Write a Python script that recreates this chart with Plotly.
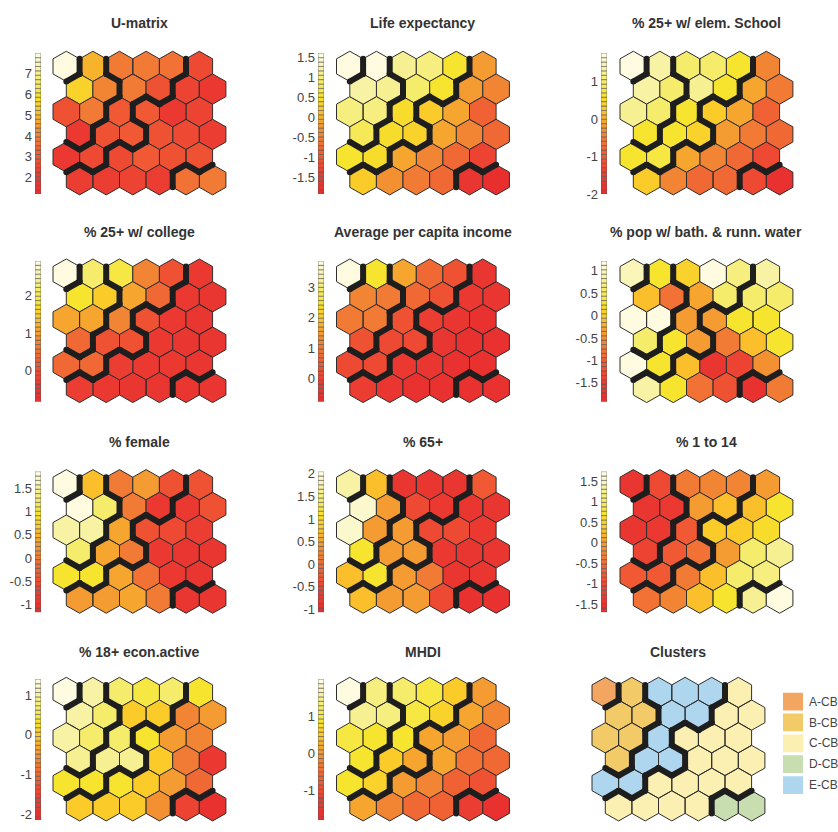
import math
import plotly.graph_objects as go
from plotly.colors import sample_colorscale

FIG_W, FIG_H = 838, 832
FONT = "Liberation Sans, Arial, sans-serif"

# ---------------------------------------------------------------- data
panel_titles = [
    "U-matrix", "Life expectancy", "% 25+ w/ elem. School",
    "% 25+ w/ college", "Average per capita income", "% pop w/ bath. & runn. water",
    "% female", "% 65+", "% 1 to 14",
    "% 18+ econ.active", "MHDI",
]

u_matrix = [
    [7.9, 4.9, 3.9, 3.9, 3.6, 2.6],
    [5.5, 4.0, 3.8, 2.7, 2.4, 2.0],
    [2.8, 3.8, 3.0, 3.0, 2.0, 2.3],
    [2.0, 2.8, 2.9, 2.7, 2.6, 2.2],
    [1.9, 2.6, 2.5, 3.1, 2.8, 2.8],
    [2.2, 2.2, 2.3, 2.2, 3.7, 3.8],
]
life_expectancy = [
    [1.55, 1.55, 1.15, 1.0, 0.6, -0.2],
    [1.2, 1.15, 0.9, 0.55, -0.2, -0.4],
    [1.05, 0.95, 0.45, 0.2, -0.15, -0.9],
    [0.75, 0.5, 0.3, -0.1, -0.4, -0.7],
    [0.55, 0.5, -0.1, -0.45, -0.8, -1.3],
    [0.2, -0.35, -0.55, -0.8, -1.6, -1.85],
]
elem_school = [
    [1.68, 1.4, 1.05, 1.0, 0.7, -0.45],
    [1.4, 1.05, 1.2, 0.65, -0.05, -0.5],
    [1.25, 1.0, 0.7, 0.3, -0.1, -0.85],
    [0.7, 0.65, 0.35, -0.15, -0.5, -0.8],
    [0.7, 0.72, -0.1, -0.45, -0.75, -1.2],
    [0.3, -0.4, -0.75, -0.75, -1.2, -1.85],
]
college = [
    [2.85, 2.2, 1.9, 0.7, 0.1, -0.45],
    [1.85, 1.5, 1.1, 0.4, -0.45, -0.5],
    [1.1, 1.1, 0.75, 0.05, -0.4, -0.5],
    [0.35, 0.1, 0.05, -0.4, -0.5, -0.5],
    [0.4, 0.35, -0.3, -0.45, -0.45, -0.5],
    [-0.35, -0.45, -0.5, -0.5, -0.55, -0.55],
]
income = [
    [3.76, 2.55, 1.6, 0.7, 0.3, -0.4],
    [1.2, 1.1, 0.8, 0.3, -0.3, -0.45],
    [1.1, 1.0, 0.3, -0.1, -0.45, -0.5],
    [0.3, 0.2, 0.15, -0.4, -0.5, -0.55],
    [0.2, 0.15, -0.2, -0.35, -0.5, -0.5],
    [-0.1, -0.35, -0.5, -0.5, -0.55, -0.55],
]
bath_water = [
    [0.95, 0.3, 0.05, 1.15, 0.65, 0.9],
    [-0.1, -0.75, -0.35, 0.6, 0.55, 0.6],
    [1.15, 1.18, -0.4, -0.4, 0.25, 0.25],
    [0.6, 0.3, -0.4, -0.7, -0.15, 0.25],
    [1.15, 0.3, -0.15, -1.7, -1.35, -0.45],
    [0.85, 0.25, -0.75, -1.15, -1.75, -0.65],
]
female = [
    [1.8, 0.6, 0.0, 0.3, -0.45, -0.5],
    [1.8, 1.25, 0.05, -0.85, -0.8, -0.5],
    [1.5, 1.55, 0.35, -0.5, -0.55, -0.75],
    [1.25, 0.35, 0.05, -0.85, -0.95, -0.9],
    [0.95, 0.95, 0.35, -0.05, -0.85, -0.9],
    [0.3, 0.3, 0.35, 0.0, -0.95, -0.95],
]
age_65_plus = [
    [1.7, 0.75, -0.85, -0.85, -0.8, -0.2],
    [1.95, 0.45, -0.4, -0.7, -0.85, -0.8],
    [1.95, 0.45, 0.45, -0.4, -0.45, -0.7],
    [1.1, 0.45, 0.45, -0.7, -0.85, -0.8],
    [0.75, 1.1, 0.45, 0.15, -0.85, -0.85],
    [0.7, 0.45, 0.45, -0.4, -0.9, -0.9],
]
age_1_to_14 = [
    [-1.45, -1.0, -0.4, -0.3, -0.3, 0.0],
    [-1.4, -1.3, -0.05, 0.3, 0.3, 0.75],
    [-1.45, -1.35, -0.75, 0.35, 0.35, 0.6],
    [-1.1, -0.8, -0.45, 0.0, 1.0, 1.3],
    [-0.75, -0.8, -0.4, 0.3, 1.0, 1.2],
    [-0.45, -0.2, 0.25, 0.75, 1.3, 1.65],
]
econ_active = [
    [1.33, 1.05, 0.7, 0.45, 0.65, 0.35],
    [1.0, 0.7, 0.0, 0.05, -0.7, -0.45],
    [1.0, 0.7, 0.65, 0.3, -0.45, -0.6],
    [0.85, 0.95, 0.95, 0.0, -0.75, -1.75],
    [0.4, 0.4, 0.35, 0.0, -0.45, -1.0],
    [0.0, 0.0, 0.0, -0.5, -1.5, -1.95],
]
mhdi = [
    [1.92, 1.35, 1.25, 0.95, 0.55, 0.05],
    [1.5, 1.3, 0.95, 0.6, 0.1, -0.25],
    [0.95, 0.9, 0.85, 0.15, 0.05, -0.6],
    [0.9, 0.55, 0.2, 0.1, -0.5, -0.6],
    [0.9, 0.6, 0.05, -0.25, -0.65, -0.95],
    [0.15, -0.2, -0.55, -0.65, -1.3, -1.6],
]

plane_values = [u_matrix, life_expectancy, elem_school, college, income,
                bath_water, female, age_65_plus, age_1_to_14, econ_active, mhdi]

plane_ranges = [(1.2, 8.0), (-1.9, 1.6), (-2.0, 1.76), (-0.83, 2.93), (-0.75, 3.85),
                (-1.92, 1.22), (-1.17, 1.86), (-1.07, 2.05), (-1.7, 1.74),
                (-2.15, 1.4), (-1.81, 2.0)]

plane_ticks = [
    [2, 3, 4, 5, 6, 7],
    [-1.5, -1, -0.5, 0, 0.5, 1, 1.5],
    [-2, -1, 0, 1],
    [0, 1, 2],
    [0, 1, 2, 3],
    [-1.5, -1, -0.5, 0, 0.5, 1],
    [-1, -0.5, 0, 0.5, 1, 1.5],
    [-1, -0.5, 0, 0.5, 1, 1.5, 2],
    [-1.5, -1, -0.5, 0, 0.5, 1, 1.5],
    [-2, -1, 0, 1],
    [-1, 0, 1],
]

cluster_labels = ["A-CB", "B-CB", "C-CB", "D-CB", "E-CB"]
cluster_colors = ["#F3A562", "#F2CB68", "#FBF0B2", "#C8DEB1", "#AED6EF"]
cluster_map = [
    ["A", "B", "E", "E", "E", "C"],
    ["B", "B", "E", "E", "C", "C"],
    ["B", "B", "E", "C", "C", "C"],
    ["B", "E", "E", "C", "C", "C"],
    ["E", "E", "C", "C", "C", "C"],
    ["C", "C", "C", "C", "D", "D"],
]

# red -> orange -> yellow -> cream colour map, split into discrete steps
heat_scale = [
    [0.00, "rgb(232,45,45)"],
    [0.15, "rgb(236,62,50)"],
    [0.28, "rgb(240,92,52)"],
    [0.40, "rgb(241,125,52)"],
    [0.50, "rgb(245,160,48)"],
    [0.60, "rgb(251,200,42)"],
    [0.70, "rgb(246,228,45)"],
    [0.80, "rgb(245,236,110)"],
    [0.90, "rgb(248,243,170)"],
    [1.00, "rgb(255,252,235)"],
]
N_STEPS = 32
step_colors = sample_colorscale(heat_scale, [(i + 0.5) / N_STEPS for i in range(N_STEPS)])

# ---------------------------------------------------------------- geometry
N_ROWS, N_COLS = 6, 6
S = 1 / math.sqrt(3)          # hexagon side (unit flat-to-flat width)
DY = 1.5 * S                  # vertical spacing between rows
PX = 26.6                     # pixels per data unit
PAD = 0.11

grid_left = [53, 336.5, 620]
grid_top = [47, 258, 472, 683]
bar_left = [35, 318, 601]
title_y = [18, 231, 444, 657]
cluster_grid_left = 592


def hex_center(r, c):
    return c + 0.5 * (r % 2), -r * DY


def hex_vertices(r, c):
    cx, cy = hex_center(r, c)
    return [(cx + S * math.cos(math.radians(a)), cy + S * math.sin(math.radians(a)))
            for a in (30, 90, 150, 210, 270, 330)]


def boundary_edges(groups):
    """Edges shared by neighbouring cells that belong to different groups."""
    edges = []
    for r in range(N_ROWS):
        for c in range(N_COLS):
            v = hex_vertices(r, c)
            odd = r % 2
            nbrs = [((r, c + 1), (5, 0)),
                    ((r + 1, c + odd), (4, 5)),
                    ((r + 1, c - 1 + odd), (3, 4))]
            for (nr, nc), (i, j) in nbrs:
                if 0 <= nr < N_ROWS and 0 <= nc < N_COLS and groups[nr][nc] != groups[r][c]:
                    edges.append((v[i], v[j]))
    return edges


fig = go.Figure()
layout_axes = {}
axis_count = [0]


def new_axes(x0_px, x1_px, y0_px, y1_px, xrange, yrange, xopts=None, yopts=None):
    axis_count[0] += 1
    n = axis_count[0]
    sfx = "" if n == 1 else str(n)
    xa = dict(domain=[x0_px / FIG_W, x1_px / FIG_W], range=xrange, anchor=f"y{sfx}",
              visible=False, fixedrange=True)
    ya = dict(domain=[1 - y1_px / FIG_H, 1 - y0_px / FIG_H], anchor=f"x{sfx}",
              visible=False, fixedrange=True)
    if yrange is not None:
        ya["range"] = yrange
    if xopts:
        xa.update(xopts)
    if yopts:
        ya.update(yopts)
    layout_axes[f"xaxis{sfx}"] = xa
    layout_axes[f"yaxis{sfx}"] = ya
    return f"x{sfx}", f"y{sfx}"


def hex_axes(gx, gy):
    w = 6.5
    h = 5 * DY + 2 * S
    return new_axes(gx - PAD * PX, gx + (w + PAD) * PX,
                    gy - PAD * PX, gy + (h + PAD) * PX,
                    [-0.5 - PAD, 6.0 + PAD], [-5 * DY - S - PAD, S + PAD])


def draw_hexes(xr, yr, color_of):
    groups = {}
    for r in range(N_ROWS):
        for c in range(N_COLS):
            col = color_of(r, c)
            xs, ys = groups.setdefault(col, ([], []))
            v = hex_vertices(r, c)
            for (x, y) in v + [v[0]]:
                xs.append(x)
                ys.append(y)
            xs.append(None)
            ys.append(None)
    for col, (xs, ys) in groups.items():
        fig.add_trace(go.Scatter(x=xs, y=ys, xaxis=xr, yaxis=yr, mode="lines",
                                 fill="toself", fillcolor=col,
                                 line=dict(color="#2e2e2e", width=1),
                                 hoverinfo="skip", showlegend=False))


def draw_boundaries(xr, yr):
    xs, ys, px, py = [], [], [], []
    for (a, b) in boundary_edges(cluster_map):
        xs += [a[0], b[0], None]
        ys += [a[1], b[1], None]
        px += [a[0], b[0]]
        py += [a[1], b[1]]
    fig.add_trace(go.Scatter(x=xs, y=ys, xaxis=xr, yaxis=yr, mode="lines",
                             line=dict(color="#1e1e1e", width=6),
                             hoverinfo="skip", showlegend=False))
    fig.add_trace(go.Scatter(x=px, y=py, xaxis=xr, yaxis=yr, mode="markers",
                             marker=dict(color="#1e1e1e", size=6),
                             hoverinfo="skip", showlegend=False))


def fmt(v):
    return str(int(v)) if float(v).is_integer() else str(v)


annotations = []

for p, (values, (vmin, vmax), ticks) in enumerate(zip(plane_values, plane_ranges, plane_ticks)):
    prow, pcol = divmod(p, 3)
    gx, gy = grid_left[pcol], grid_top[prow]

    # component plane
    xr, yr = hex_axes(gx, gy)

    def color_of(r, c, values=values, vmin=vmin, vmax=vmax):
        k = int((values[r][c] - vmin) / (vmax - vmin) * N_STEPS)
        return step_colors[max(0, min(N_STEPS - 1, k))]

    draw_hexes(xr, yr, color_of)
    draw_boundaries(xr, yr)

    # segmented colour bar
    step = (vmax - vmin) / N_STEPS
    bx = bar_left[pcol]
    bxr, byr = new_axes(bx, bx + 6, gy + 2, gy + 145, [-0.5, 0.5], [vmin, vmax],
                        yopts=dict(visible=True, showgrid=False, zeroline=False,
                                   showline=False, ticks="", tickvals=ticks,
                                   ticktext=[fmt(t) for t in ticks], ticklabelstandoff=2,
                                   tickfont=dict(family=FONT, size=13, color="#444444")))
    fig.add_trace(go.Bar(x=[0] * N_STEPS, y=[step] * N_STEPS,
                         base=[vmin + i * step for i in range(N_STEPS)],
                         width=1, marker=dict(color=step_colors,
                                              line=dict(color="#555555", width=0.6)),
                         xaxis=bxr, yaxis=byr, hoverinfo="skip", showlegend=False))

    annotations.append(dict(text=f"<b>{panel_titles[p]}</b>", x=(gx + 6.5 * PX / 2) / FIG_W,
                            y=1 - title_y[prow] / FIG_H, xref="paper", yref="paper",
                            showarrow=False, xanchor="center", yanchor="middle",
                            font=dict(family=FONT, size=14, color="#333333")))

# cluster map
cluster_color = dict(zip([l[0] for l in cluster_labels], cluster_colors))
xr, yr = hex_axes(cluster_grid_left, grid_top[3])
draw_hexes(xr, yr, lambda r, c: cluster_color[cluster_map[r][c]])
draw_boundaries(xr, yr)
annotations.append(dict(text="<b>Clusters</b>", x=(cluster_grid_left + 6.5 * PX / 2) / FIG_W,
                        y=1 - title_y[3] / FIG_H, xref="paper", yref="paper", showarrow=False,
                        xanchor="center", yanchor="middle",
                        font=dict(family=FONT, size=14, color="#333333")))

# cluster legend
lxr, lyr = new_axes(783, 803, 697, 803, [0, 1], None,
                    yopts=dict(visible=True, type="category", categoryorder="array",
                               categoryarray=cluster_labels, autorange="reversed",
                               side="right", showgrid=False, zeroline=False, showline=False,
                               ticks="", ticklabelstandoff=5,
                               tickfont=dict(family=FONT, size=12, color="#444444")))
fig.add_trace(go.Bar(x=[1] * 5, y=cluster_labels, orientation="h", width=0.85,
                     marker=dict(color=cluster_colors, line=dict(width=0)),
                     xaxis=lxr, yaxis=lyr, hoverinfo="skip", showlegend=False))

fig.update_layout(width=FIG_W, height=FIG_H, margin=dict(l=0, r=0, t=0, b=0),
                  paper_bgcolor="white", plot_bgcolor="white", showlegend=False,
                  annotations=annotations, **layout_axes)

fig.write_html("out.html")
